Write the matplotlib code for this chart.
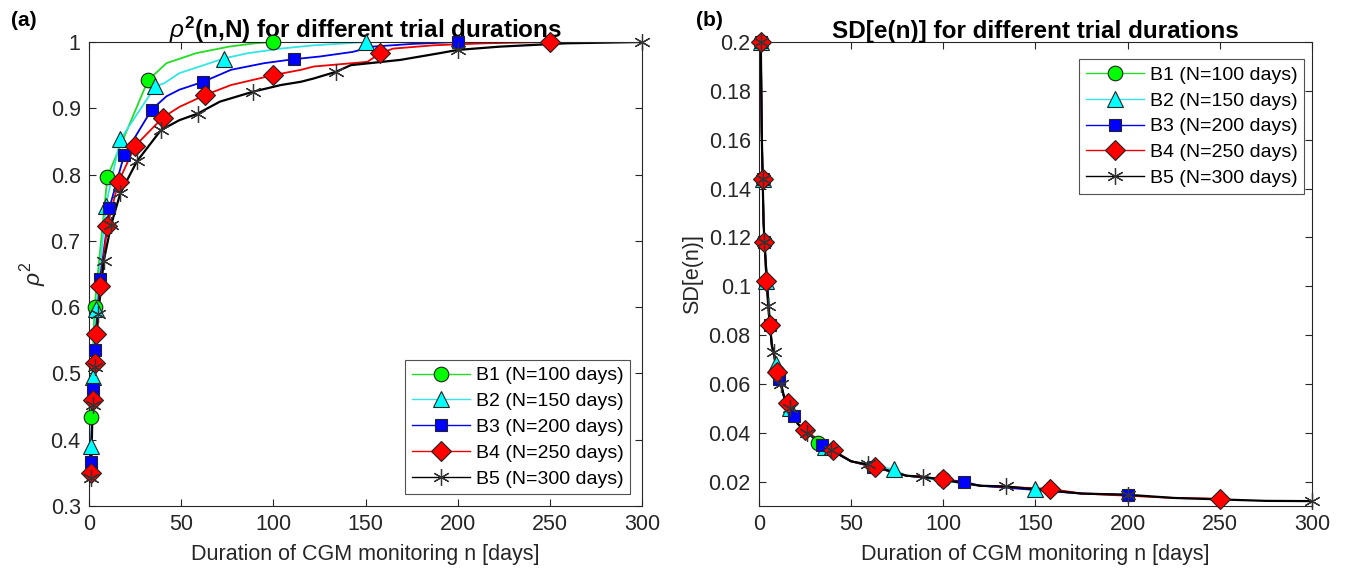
import matplotlib
matplotlib.use("Agg")
import matplotlib.pyplot as plt
import numpy as np

plt.rcParams['font.family'] = ['Liberation Sans', 'DejaVu Sans']
plt.rcParams['mathtext.fontset'] = 'custom'
plt.rcParams['mathtext.rm'] = 'Liberation Sans'
plt.rcParams['mathtext.it'] = 'Liberation Sans:italic'
plt.rcParams['mathtext.bf'] = 'Liberation Sans:bold'

# ---------------- data ----------------
labels = ["B1 (N=100 days)", "B2 (N=150 days)", "B3 (N=200 days)",
          "B4 (N=250 days)", "B5 (N=300 days)"]

# marker positions (days) per trial duration
b1_days = [1, 3, 10, 32, 100]
b2_days = [1, 2, 4, 9, 17, 36, 73, 150]
b3_days = [1, 2, 3, 6, 11, 19, 34, 62, 111, 200]
b4_days = [1, 2, 3, 4, 6, 10, 16, 25, 40, 63, 100, 158, 250]
b5_days = [1, 2, 3, 5, 8, 12, 17, 26, 39, 59, 89, 134, 200, 300]

# rho^2 at marker positions
b1_rho = [0.435, 0.600, 0.797, 0.942, 1.000]
b2_rho = [0.390, 0.495, 0.597, 0.752, 0.853, 0.933, 0.975, 1.000]
b3_rho = [0.366, 0.476, 0.535, 0.642, 0.749, 0.829, 0.898, 0.940, 0.974, 1.000]
b4_rho = [0.350, 0.460, 0.516, 0.560, 0.632, 0.723, 0.789, 0.843, 0.886,
          0.920, 0.950, 0.983, 1.000]
b5_rho = [0.342, 0.452, 0.510, 0.590, 0.670, 0.724, 0.772, 0.820, 0.867,
          0.892, 0.925, 0.955, 0.988, 1.000]

# extra rho^2 points along the lines (between markers)
b1_line_days = [42, 58, 76, 90]
b1_line_rho = [0.968, 0.983, 0.993, 0.998]
b2_line_days = [41, 49, 60, 86, 104, 122, 140]
b2_line_rho = [0.938, 0.953, 0.963, 0.983, 0.990, 0.995, 0.998]
b3_line_days = [42, 49, 77, 95, 125, 143, 154, 175]
b3_line_rho = [0.918, 0.928, 0.958, 0.968, 0.978, 0.985, 0.993, 0.997]
b4_line_days = [49, 77, 115, 122, 151, 165, 187, 215]
b4_line_rho = [0.902, 0.935, 0.958, 0.963, 0.970, 0.990, 0.995, 0.998]
b5_line_days = [49, 71, 104, 115, 122, 142, 169, 190, 223, 259]
b5_line_rho = [0.882, 0.910, 0.935, 0.940, 0.945, 0.965, 0.973, 0.983,
               0.993, 0.998]

# SD[e(n)] at marker positions
b1_sd = [0.200, 0.118, 0.065, 0.036, 0.021]
b2_sd = [0.200, 0.144, 0.102, 0.068, 0.050, 0.034, 0.025, 0.017]
b3_sd = [0.200, 0.144, 0.118, 0.084, 0.062, 0.047, 0.035, 0.026, 0.020, 0.0146]
b4_sd = [0.200, 0.144, 0.118, 0.102, 0.084, 0.065, 0.052, 0.041, 0.033,
         0.026, 0.021, 0.017, 0.013]
b5_sd = [0.200, 0.144, 0.118, 0.092, 0.073, 0.060, 0.050, 0.040, 0.033,
         0.027, 0.022, 0.018, 0.0146, 0.012]

# extra SD points along the common curve
sd_line_days = [1.5, 2.5, 7, 14, 21, 50, 80, 120, 175, 225, 275]
sd_line_vals = [0.163, 0.126, 0.0756, 0.0535, 0.0437, 0.0283, 0.0224,
                0.0183, 0.0151, 0.0133, 0.0121]

series_days = [b1_days, b2_days, b3_days, b4_days, b5_days]
series_rho = [b1_rho, b2_rho, b3_rho, b4_rho, b5_rho]
series_sd = [b1_sd, b2_sd, b3_sd, b4_sd, b5_sd]
line_days = [b1_line_days, b2_line_days, b3_line_days, b4_line_days, b5_line_days]
line_rho = [b1_line_rho, b2_line_rho, b3_line_rho, b4_line_rho, b5_line_rho]
durations = [100, 150, 200, 250, 300]

# ---------------- style ----------------
line_colors = ['#22dd22', '#33e5e5', '#0000ee', '#ee0000', '#000000']
face_colors = ['#00ff00', '#00ffff', '#0000ff', '#ff0000', '#000000']
markers = ['o', '^', 's', 'D', (6, 2, 0)]
msizes = [10.5, 11.5, 8.5, 10.5, 12]
lws = [1.3, 1.3, 1.3, 1.3, 1.6]

fig = plt.figure(figsize=(13.57, 5.75), dpi=100)
axA = fig.add_axes([0.0656, 0.12, 0.4075, 0.807])
axB = fig.add_axes([0.5593, 0.12, 0.4075, 0.807])

tick_col = '#262626'
for ax in (axA, axB):
    ax.set_xlim(0, 300)
    ax.set_xticks([0, 50, 100, 150, 200, 250, 300])
    ax.tick_params(direction='in', top=True, right=True, length=5,
                   width=0.8, colors=tick_col, labelsize=15.5, pad=6)
    for sp in ax.spines.values():
        sp.set_color('#262626')
        sp.set_linewidth(0.8)
    ax.set_xlabel('Duration of CGM monitoring n [days]', fontsize=15.5,
                  color=tick_col, labelpad=6)


def mk_kwargs(i):
    is_star = i == 4
    return dict(marker=markers[i], ms=msizes[i], mfc=face_colors[i],
                mec='#333333' if is_star else '#222222',
                mew=0.9 if is_star else 0.8)


# Panel (a)
handles = []
for i in range(5):
    xs = list(series_days[i]) + list(line_days[i])
    ys = list(series_rho[i]) + list(line_rho[i])
    order = np.argsort(xs, kind='stable')
    xs = np.array(xs)[order]
    ys = np.array(ys)[order]
    axA.plot(xs, ys, color=line_colors[i], lw=lws[i], zorder=2 + i * 0.1)
for i in range(5):
    axA.plot(series_days[i], series_rho[i], linestyle='none',
             clip_on=False, zorder=4, **mk_kwargs(i))
    h, = axA.plot([], [], color=line_colors[i], lw=1.0, **mk_kwargs(i))
    handles.append(h)
axA.set_ylim(0.3, 1.0)
axA.set_yticks([0.3, 0.4, 0.5, 0.6, 0.7, 0.8, 0.9, 1.0])
axA.set_yticklabels(['0.3', '0.4', '0.5', '0.6', '0.7', '0.8', '0.9', '1'])
axA.set_ylabel(r'$\rho^2$', fontsize=16.5, color=tick_col, labelpad=2)
axA.set_title(r'$\rho^\mathbf{2}$(n,N) for different trial durations',
              fontsize=17.5, fontweight='bold', pad=3)
legA = axA.legend(handles, labels, loc='lower right', fontsize=14,
                  frameon=True, fancybox=False, edgecolor='#262626',
                  borderpad=0.35, labelspacing=0.42, handlelength=3.0,
                  handletextpad=0.3, borderaxespad=0.6)
legA.get_frame().set_linewidth(0.8)

# Panel (b)
handlesB = []
for i in range(5):
    xs = list(series_days[i]) + [d for d in sd_line_days if d < durations[i]]
    ys = list(series_sd[i]) + [v for d, v in zip(sd_line_days, sd_line_vals)
                               if d < durations[i]]
    order = np.argsort(xs, kind='stable')
    xs = np.array(xs)[order]
    ys = np.array(ys)[order]
    axB.plot(xs, ys, color=line_colors[i], lw=lws[i], zorder=2 + i * 0.1)
for i in range(5):
    axB.plot(series_days[i], series_sd[i], linestyle='none',
             clip_on=False, zorder=4, **mk_kwargs(i))
    h, = axB.plot([], [], color=line_colors[i], lw=1.0, **mk_kwargs(i))
    handlesB.append(h)
axB.set_ylim(0.01, 0.2)
yt = [0.02, 0.04, 0.06, 0.08, 0.10, 0.12, 0.14, 0.16, 0.18, 0.20]
axB.set_yticks(yt)
axB.set_yticklabels(['0.02', '0.04', '0.06', '0.08', '0.1', '0.12', '0.14',
                     '0.16', '0.18', '0.2'])
axB.set_ylabel('SD[e(n)]', fontsize=15.5, color=tick_col, labelpad=4)
axB.set_title('SD[e(n)] for different trial durations', fontsize=17.5,
              fontweight='bold', pad=3)
legB = axB.legend(handlesB, labels, loc='upper right', fontsize=14,
                  frameon=True, fancybox=False, edgecolor='#262626',
                  borderpad=0.35, labelspacing=0.42, handlelength=3.0,
                  handletextpad=0.3, borderaxespad=0.3,
                  bbox_to_anchor=(0.997, 0.975))
legB.get_frame().set_linewidth(0.8)

fig.text(0.008, 0.955, '(a)', fontsize=15, fontweight='bold')
fig.text(0.513, 0.955, '(b)', fontsize=15, fontweight='bold')

fig.savefig('out.png', dpi=100)
